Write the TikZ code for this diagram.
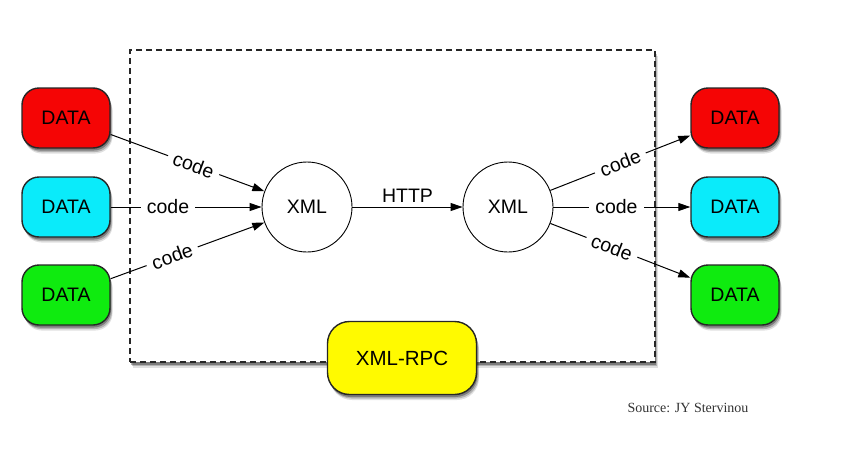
\documentclass[tikz,border=0pt]{standalone}
\usepackage{fontspec}
\setmainfont{Liberation Sans}
\newfontfamily\serifsrc{Liberation Serif}
\usetikzlibrary{arrows.meta,shadows}
\definecolor{dred}{RGB}{245,5,5}
\definecolor{dcyan}{RGB}{10,235,250}
\definecolor{dgreen}{RGB}{15,235,15}
\definecolor{dyellow}{RGB}{255,250,0}
\begin{document}
\begin{tikzpicture}[x=1pt,y=-1pt,
  every node/.style={font=\fontsize{19.5}{22}\selectfont},
  shad/.style={drop shadow={shadow xshift=2.5pt,shadow yshift=-5.5pt,opacity=0.12,fill=black},
               drop shadow={shadow xshift=2pt,shadow yshift=-4pt,opacity=0.2,fill=black},
               drop shadow={shadow xshift=1pt,shadow yshift=-2.5pt,opacity=0.3,fill=black}},
  databox/.style={draw=black!85, line width=1.4pt, rounded corners=17pt,
                  minimum width=88pt, minimum height=60pt, shad},
  xmlc/.style={circle, draw, line width=0.9pt, fill=white, minimum size=90pt, inner sep=0pt},
  conn/.style={line width=1pt, -{Triangle[length=12pt,width=8pt]}},
  lbl/.style={fill=white, inner xsep=6pt, inner ysep=1pt, sloped}
]
\useasboundingbox (0,0) rectangle (841,450);
\fill[white] (0,0) rectangle (841,450);
% frame
\node[draw=black!85, line width=1.3pt, dash pattern=on 6pt off 4pt, fill=white,
      minimum width=525pt, minimum height=312pt, inner sep=0pt, shad] (frame) at (392.5,206) {};
% left data
\node[databox, fill=dred] (dl1) at (66,118) {DATA};
\node[databox, fill=dcyan] (dl2) at (66,207) {DATA};
\node[databox, fill=dgreen] (dl3) at (66,295) {DATA};
% right data
\node[databox, fill=dred] (dr1) at (735,118) {DATA};
\node[databox, fill=dcyan] (dr2) at (735,207) {DATA};
\node[databox, fill=dgreen] (dr3) at (735,295) {DATA};
% circles
\node[xmlc] (xl) at (307,207) {XML};
\node[xmlc] (xr) at (508,207) {XML};
% yellow
\node[draw=black!85, line width=1.4pt, rounded corners=22pt, fill=dyellow,
      minimum width=149pt, minimum height=73pt, font=\fontsize{20.5}{22}\selectfont, shad] (rpc) at (402,358) {XML-RPC};
% connectors
\draw[conn] (dl1) -- node[lbl,pos=0.54]{code} (xl);
\draw[conn] (dl2.east) -- node[lbl,pos=0.38]{code} (xl.west);
\draw[conn] (dl3) -- node[lbl,pos=0.40]{code} (xl);
\draw[conn] (xl.east) -- node[above=1pt]{HTTP} (xr.west);
\draw[conn] (xr) -- node[lbl,pos=0.50]{code} (dr1);
\draw[conn] (xr.east) -- node[lbl,pos=0.46]{code} (dr2.west);
\draw[conn] (xr) -- node[lbl,pos=0.44]{code} (dr3);
% source
\node[font=\serifsrc\fontsize{14}{16}\selectfont, text=black!80] (src) at (688,408) {Source: JY Stervinou};
\end{tikzpicture}
\end{document}
